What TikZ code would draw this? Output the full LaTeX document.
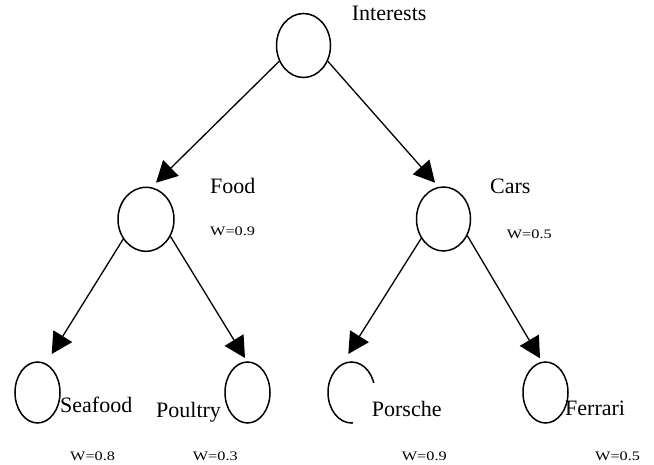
\documentclass[tikz,border=0pt]{standalone}
\usepackage{fontspec}
\setmainfont{Liberation Serif}
\usetikzlibrary{arrows.meta,shapes.geometric}
\newcommand\wlab[1]{\scalebox{1.25}[1]{W=0.#1}}
\tikzset{
  bigell/.style={ellipse,draw,line width=1.5pt,inner sep=0pt,minimum width=54pt,minimum height=64pt},
  leafell/.style={ellipse,draw,line width=1.5pt,inner sep=0pt,minimum width=45pt,minimum height=61pt},
  toplbl/.style={anchor=base west,inner sep=0pt,font=\fontsize{22}{26}\selectfont},
  wtlbl/.style={anchor=base west,inner sep=0pt,font=\fontsize{13}{15}\selectfont},
  edgearrow/.style={line width=1.3pt,-{Triangle[length=21pt,width=22pt]}}
}
\begin{document}
\begin{tikzpicture}[x=1pt,y=-1pt]
\useasboundingbox (0,0) rectangle (654,465);
% nodes
\node[bigell] (i) at (303.5,45.5) {};
\node[bigell,minimum width=56pt] (f) at (146,219.3) {};
\node[bigell] (c) at (443.5,219) {};
\node[leafell] (sf) at (37.5,392.5) {};
\node[leafell] (po) at (247.5,392.5) {};
\node[leafell,minimum width=47pt] (pr) at (351.5,392.5) {};
\node[leafell] (fe) at (545.5,392.5) {};
% white box hiding part of the Porsche ellipse
\fill[white] (352.5,383) rectangle (452,427);
% labels
\node[toplbl] (li) at (351.7,20.7) {Interests};
\node[toplbl] (lf) at (210,193.3) {Food};
\node[toplbl] (lc) at (490,193.3) {Cars};
\node[toplbl] (lsf) at (60,412.7) {Seafood};
\node[toplbl] (lpo) at (156,417.5) {Poultry};
\node[toplbl] (lpr) at (371.7,416.7) {Porsche};
\node[toplbl] (lfe) at (565,415) {Ferrari};
\node[wtlbl] (wf) at (210,235.7) {\wlab{9}};
\node[wtlbl] (wc) at (506.7,238.3) {\wlab{5}};
\node[wtlbl] (wsf) at (70,460.5) {\wlab{8}};
\node[wtlbl] (wpo) at (192.7,460.5) {\wlab{3}};
\node[wtlbl] (wpr) at (401.7,460.5) {\wlab{9}};
\node[wtlbl] (wfe) at (595,460.5) {\wlab{5}};
% edges
\draw[edgearrow] (i.213) -- ([shift={(10,-36.6)}]f.center);
\draw[edgearrow] (i.327) -- ([shift={(-8.5,-36.3)}]c.center);
\draw[edgearrow] (f.221) -- ([shift={(14.2,-38.5)}]sf.center);
\draw[edgearrow] (f.325) -- ([shift={(-2.5,-34.5)}]po.center);
\draw[edgearrow] (c.221) -- ([shift={(-3.2,-38.5)}]pr.center);
\draw[edgearrow] (c.325) -- ([shift={(-5.5,-34.2)}]fe.center);
\end{tikzpicture}
\end{document}
